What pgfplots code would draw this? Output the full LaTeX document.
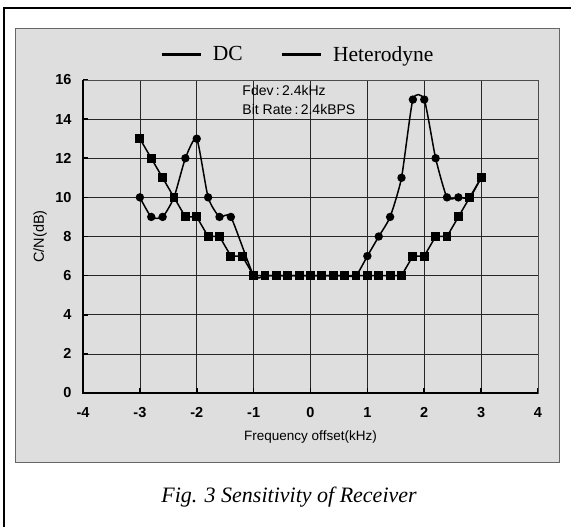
\documentclass[border=0pt]{standalone}
\usepackage{fontspec}
\setmainfont{Liberation Serif}
\setsansfont{Liberation Sans}
\usepackage{pgfplots}
\pgfplotsset{compat=1.18}
\begin{document}
\begin{tikzpicture}[x=1pt,y=1pt]
\useasboundingbox (0,0) rectangle (571,527);
\fill[white] (0,0) rectangle (571,527);
\draw[line width=1.8pt] (4,0) -- (4,519) -- (571,519);
\filldraw[fill=black!13, draw=black!60, line width=0.8pt] (15,65) rectangle (559,499);
\begin{axis}[
  at={(83pt,134pt)}, anchor=south west,
  width=455pt, height=313pt, scale only axis,
  xmin=-4, xmax=4, ymin=0, ymax=16,
  xtick={-4,-3,...,4}, ytick={0,2,...,16},
  grid=major, major grid style={black!85, line width=0.7pt},
  axis line style={black!70, line width=0.6pt},
  tick pos=left, tick align=inside, major tick length=5pt,
  tick style={black, line width=1.6pt},
  /pgf/number format/assume math mode=true,
  ticklabel style={font=\sffamily\bfseries\fontsize{14.5}{14.5}\selectfont},
  xticklabel style={yshift=-11pt},
  yticklabel style={xshift=-8pt},
  xlabel={Frequency offset(kHz)},
  ylabel={C/N(dB)},
  x label style={at={(axis description cs:0.5,-0.14)}, anchor=center, font=\sffamily\fontsize{13.5}{13.5}\selectfont},
  y label style={at={(axis description cs:-0.094,0.5)}, anchor=center, font=\sffamily\fontsize{14.5}{14.5}\selectfont},
  legend style={at={(axis description cs:0.4725,1)}, anchor=south, yshift=13pt,
    draw=none, fill=none, font=\rmfamily\fontsize{21.5}{21.5}\selectfont,
    /tikz/every even column/.append style={column sep=36pt}},
  legend columns=2,
  legend image code/.code={\draw[line width=2.4pt] (0pt,0pt) -- (39pt,0pt); \path (49pt,0pt);},
  after end axis/.code={\draw[line width=2.6pt] (rel axis cs:0,1) -- (rel axis cs:0,0) -- (rel axis cs:1,0);},
  clip=false,
]
\addlegendimage{black}
\addlegendentry{DC}
\addlegendimage{black}
\addlegendentry{Heterodyne}

\addplot[black, line width=1.5pt, mark=square*, mark size=3.7pt, forget plot] coordinates {
(-3,13)(-2.8,12)(-2.6,11)(-2.4,10)(-2.2,9)(-2,9)(-1.8,8)(-1.6,8)(-1.4,7)(-1.2,7)
(-1,6)(-0.8,6)(-0.6,6)(-0.4,6)(-0.2,6)(0,6)(0.2,6)(0.4,6)(0.6,6)(0.8,6)(1,6)(1.2,6)(1.4,6)(1.6,6)
(1.8,7)(2,7)(2.2,8)(2.4,8)(2.6,9)(2.8,10)(3,11)};

\addplot[black, line width=1.5pt, smooth, tension=0.35, mark=*, mark size=3.4pt, forget plot] coordinates {
(-3,10)(-2.8,9)(-2.6,9)(-2.4,10)(-2.2,12)(-2,13)(-1.8,10)(-1.6,9)(-1.4,9)
(-1,6)(-0.8,6)(-0.6,6)(-0.4,6)(-0.2,6)(0,6)(0.2,6)(0.4,6)(0.6,6)(0.8,6)
(1,7)(1.2,8)(1.4,9)(1.6,11)(1.8,15)(2,15)(2.2,12)(2.4,10)(2.6,10)(2.8,10)(3,11)};

\node[anchor=north west, align=left, font=\sffamily\fontsize{14}{19}\selectfont, inner sep=0pt]
  at (axis cs:-1.2,15.75) {Fdev\,:\,2.4kHz\\Bit Rate\,:\,2.4kBPS};
\end{axis}
\node[font=\rmfamily\itshape\fontsize{22}{22}\selectfont, anchor=base] at (289,24) {Fig. 3 Sensitivity of Receiver};
\end{tikzpicture}
\end{document}
